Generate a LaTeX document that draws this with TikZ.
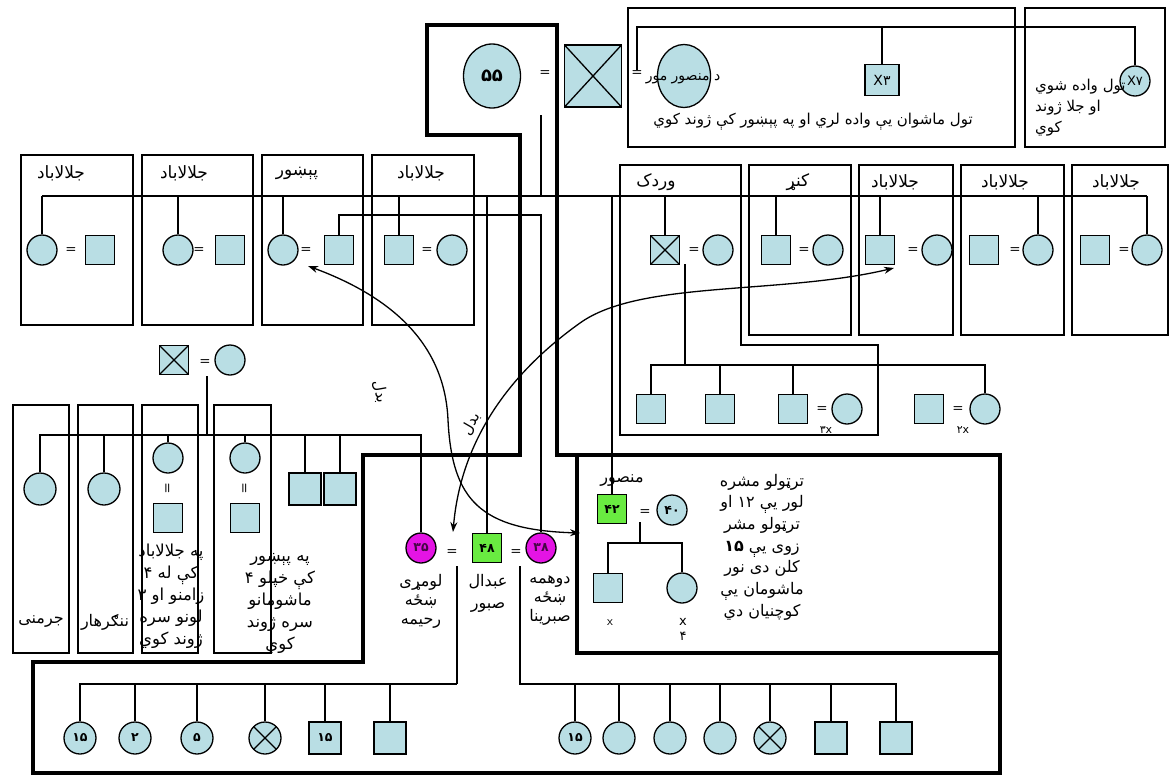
\documentclass[tikz,border=0pt]{standalone}
\usepackage{fontspec}
\usetikzlibrary{arrows.meta,shapes.geometric}
\newfontfamily\arabicfont[Script=Arabic]{DejaVu Sans}
\TeXXeTstate=1
\newcommand\rl[1]{\beginR#1\endR}
\definecolor{pedblue}{RGB}{185,222,228}
\definecolor{wifepink}{RGB}{228,20,228}
\definecolor{headgreen}{RGB}{105,235,65}

\begin{document}
\begin{tikzpicture}[x=1pt,y=-1pt,
    kin/.style={line width=1.3pt},
    heavy/.style={line width=3.2pt},
    region/.style={draw,line width=1.2pt},
    person/.style={draw,line width=1.3pt,fill=pedblue,inner sep=0pt,
        font=\arabicfont\bfseries\fontsize{12.5}{12.5}\selectfont},
    fem/.style={person,circle,minimum size=30pt},
    mal/.style={person,rectangle,minimum size=29pt},
    dead/.style={path picture={\draw[line width=1.3pt]
        (path picture bounding box.north west) -- (path picture bounding box.south east)
        (path picture bounding box.south west) -- (path picture bounding box.north east);}},
    femx/.style={fem,dead},
    malx/.style={mal,dead},
    alive/.style={},
    eq/.style={font=\sffamily\bfseries\fontsize{12}{12}\selectfont,inner sep=0pt},
    lab/.style={font=\arabicfont\fontsize{16}{21}\selectfont,inner sep=0pt,align=center},
    place/.style={lab,font=\arabicfont\fontsize{17}{21}\selectfont},
    exch/.style={line width=1.3pt,{Stealth[length=10pt,width=7pt]}-{Stealth[length=10pt,width=7pt]}}]
\useasboundingbox (0,0) rectangle (1170,777);

% heavy household outlines
\draw[heavy] (557,455) -- (557,25) -- (427,25) -- (427,135) -- (520,135) -- (520,455)
    -- (363,455) -- (363,662) -- (33,662) -- (33,773) -- (1000,773) -- (1000,455) -- cycle;
\draw[heavy] (577,455) -- (577,653) -- (1000,653);

% places
\draw[region] (628,8) rectangle (1015,147);
\draw[region] (1025,8) rectangle (1165,147);
\foreach \a/\b in {21/133,142/253,262/363,372/474}
    \draw[region] (\a,155) rectangle (\b,325);
\draw[region] (620,165) -- (741,165) -- (741,345) -- (878,345) -- (878,435) -- (620,435) -- cycle;
\foreach \a/\b in {749/851,859/953,961/1064,1072/1168}
    \draw[region] (\a,165) rectangle (\b,335);
\foreach \a/\b in {13/69,78/133,142/198,214/271}
    \draw[region] (\a,405) rectangle (\b,653);

% grandparents and Mansur's mother
\node[fem,ellipse,minimum width=57pt,minimum height=64pt,
    font=\arabicfont\bfseries\fontsize{18}{18}\selectfont] (gma) at (492,76) {۵۵};
\node[eq] (gmaeq) at (545,73) {=};
\node[malx,minimum width=57pt,minimum height=62pt] (gpa) at (593,76) {};
\node[eq] (mmeq) at (637,73) {=};
\node[fem,ellipse,minimum width=53pt,minimum height=63pt] (mmom) at (684,76) {};
\node[lab,font=\arabicfont\fontsize{14}{14}\selectfont] (mmlab) at (683,79) {\rl{د منصور مور}};
\node[mal,minimum width=34pt,minimum height=31pt,
    font=\arabicfont\fontsize{14}{14}\selectfont] (bro3) at (882,80) {X۳};
\node[fem,font=\arabicfont\fontsize{13}{13}\selectfont] (sis7) at (1135,81) {X۷};
\node[lab,font=\arabicfont\fontsize{15}{15}\selectfont] (t1) at (813,122)
    {\rl{تول ماشوان یې واده لري او په پېښور کې ژوند کوي}};
\node[lab,align=left,anchor=north west,font=\arabicfont\fontsize{15}{21}\selectfont] (t2) at (1035,79)
    {\rl{تول واده شوي}\\\rl{او جلا ژوند}\\\rl{کوي}};
\coordinate (topsib) at (0,27);
\draw[kin] (mmeq.north) -- (mmeq.north |- topsib) -| (sis7.north);
\draw[kin] (bro3.north) -- (bro3.north |- topsib);

% second generation
\coordinate (gen) at (0,196);
\coordinate (gen2) at (0,215);
\coordinate (pdrop) at (541,115);
\foreach \n/\a/\e/\b in {L1/42/71/100,L2/178/199/230,L3/283/306/339} {
    \node[fem] (\n-w) at (\a,250) {};
    \node[eq] (\n-e) at (\e,250) {=};
    \node[mal] (\n-h) at (\b,250) {};
}
\node[mal] (L4-h) at (399,250) {};
\node[eq] (L4-e) at (427,250) {=};
\node[fem] (L4-w) at (452,250) {};
\foreach \n/\a/\e/\b/\s in {R1/665/694/718/dead,R2/776/804/828/alive,
        R3/880/913/937/alive,R4/984/1015/1038/alive,R5/1095/1124/1147/alive} {
    \node[mal,\s] (\n-h) at (\a,250) {};
    \node[eq] (\n-e) at (\e,250) {=};
    \node[fem] (\n-w) at (\b,250) {};
}
\foreach \x/\t [count=\k] in {61/جلالاباد,184/جلالاباد,297/پېښور,421/جلالاباد}
    \node[place] (ltop\k) at (\x,173) {\rl{\t}};
\foreach \x/\t [count=\k] in {656/وردک,798/کنړ,895/جلالاباد,1005/جلالاباد,1116/جلالاباد}
    \node[place] (rtop\k) at (\x,182) {\rl{\t}};

% Abdul Sabur, his wives, Mansur
\node[fem,fill=wifepink,text=black!70!wifepink] (rah) at (421,548) {۳۵};
\node[eq] (rahe) at (452,552) {=};
\node[mal,fill=headgreen] (abd) at (487,548) {۴۸};
\node[eq] (sabe) at (516,552) {=};
\node[fem,fill=wifepink,text=black!70!wifepink] (sab) at (541,548) {۳۸};
\node[lab,font=\arabicfont\fontsize{16}{19}\selectfont] (rahlab) at (421,601)
    {\rl{لومړی}\\\rl{ښځه}\\\rl{رحیمه}};
\node[lab,font=\arabicfont\fontsize{16}{22}\selectfont] (abdlab) at (488,593)
    {\rl{عبدال}\\\rl{صبور}};
\node[lab,font=\arabicfont\fontsize{16}{19}\selectfont] (sablab) at (550,601)
    {\rl{دوهمه}\\\rl{ښځه}\\\rl{صبرینا}};
\node[mal,fill=headgreen] (man) at (612,509) {۴۲};

\draw[kin] (L1-w.north |- gen) -- (R5-w.north |- gen);
\foreach \n in {L1-w,L2-w,L3-w,L4-h,R1-h,R2-h,R3-h,R4-w,R5-w,abd,man}
    \draw[kin] (\n.north) -- (\n.north |- gen);
\draw[kin] (pdrop) -- (pdrop |- gen);
\draw[kin] (L3-h.north) -- (L3-h.north |- gen2) -| (sab.north);

% Wardak family
\coordinate (wdrop) at (685,264);
\coordinate (wsib) at (0,365);
\foreach \n/\x in {wk1/651,wk2/720,wk3/793,wk4/929}
    \node[mal] (\n) at (\x,409) {};
\node[fem] (wk3w) at (847,409) {};
\node[fem] (wk5) at (985,409) {};
\node[eq] (wk3e) at (822,409) {=};
\node[eq] (wk5e) at (958,409) {=};
\node[font=\arabicfont\fontsize{11}{11}\selectfont,inner sep=0pt] (wk3n) at (826,430) {۳x};
\node[font=\arabicfont\fontsize{11}{11}\selectfont,inner sep=0pt] (wk5n) at (963,430) {۲x};
\draw[kin] (wdrop) -- (wdrop |- wsib);
\draw[kin] (wk1.north) -- (wk1.north |- wsib) -- (wk5.north |- wsib) -- (wk5.north);
\foreach \n in {wk2,wk3}
    \draw[kin] (\n.north) -- (\n.north |- wsib);

% Rahima's parents and siblings
\node[malx] (lfa) at (174,360) {};
\node[eq] (lfe) at (205,362) {=};
\node[fem] (lmo) at (230,360) {};
\coordinate (ldrop) at (207,376);
\coordinate (lsib) at (0,435);
\node[fem,minimum size=32pt] (lc1) at (40,489) {};
\node[fem,minimum size=32pt] (lc2) at (104,489) {};
\node[fem] (lc3) at (168,458) {};
\node[eq,rotate=90] (lc3e) at (168,488) {=};
\node[mal] (lc3h) at (168,518) {};
\node[fem] (lc4) at (245,458) {};
\node[eq,rotate=90] (lc4e) at (245,488) {=};
\node[mal] (lc4h) at (245,518) {};
\node[mal,minimum size=32pt] (lc5) at (305,489) {};
\node[mal,minimum size=32pt] (lc6) at (340,489) {};
\draw[kin] (ldrop) -- (ldrop |- lsib);
\draw[kin] (lc1.north) -- (lc1.north |- lsib) -- (rah.north |- lsib) -- (rah.north);
\foreach \n in {lc2,lc3,lc4,lc5,lc6}
    \draw[kin] (\n.north) -- (\n.north |- lsib);
\node[lab] (lc1lab) at (41,622) {\rl{جرمنی}};
\node[lab] (lc2lab) at (105,622) {\rl{ننګرهار}};
\node[lab,font=\arabicfont\fontsize{16.5}{22}\selectfont] (lc3lab) at (171,596)
    {\rl{په جلالاباد}\\\rl{کې له ۴}\\\rl{زامنو او ۳}\\\rl{لونو سره}\\\rl{ژوند کوي}};
\node[lab,font=\arabicfont\fontsize{16.5}{22}\selectfont] (lc4lab) at (280,603)
    {\rl{په پېښور}\\\rl{کې خپلو ۴}\\\rl{ماشومانو}\\\rl{سره ژوند}\\\rl{کوي}};

% Mansur's household
\node[lab] (manlab) at (622,481) {\rl{منصور}};
\node[eq] (mane) at (645,512) {=};
\node[fem] (manw) at (672,510) {۴۰};
\coordinate (mdrop) at (640,522);
\coordinate (msib) at (0,543);
\node[mal] (mk1) at (608,588) {};
\node[fem] (mk2) at (682,588) {};
\draw[kin] (mdrop) -- (mdrop |- msib);
\draw[kin] (mk1.north) -- (mk1.north |- msib) -- (mk2.north |- msib) -- (mk2.north);
\node[font=\sffamily\fontsize{13}{13}\selectfont] (mk1x) at (610,623) {x};
\node[font=\arabicfont\fontsize{13}{15}\selectfont,align=center,inner sep=0pt] (mk2x) at (683,629) {x\\۴};
\node[lab,font=\arabicfont\fontsize{16}{21.7}\selectfont] (mantxt) at (762,547)
    {\rl{ترټولو مشره}\\\rl{لور یې ۱۲ او}\\\rl{ترټولو مشر}\\\rl{زوی یې \textbf{۱۵}}\\
     \rl{کلن دی نور}\\\rl{ماشومان یې}\\\rl{کوچنیان دي}};

% grandchildren
\coordinate (rdrop) at (457,566);
\coordinate (sdrop) at (520,566);
\coordinate (csib) at (0,684);
\foreach \n/\x/\s/\t in {ra1/80/fem/۱۵,ra2/135/fem/۲,ra3/197/fem/۵,ra4/265/femx/,
        ra5/325/mal/۱۵,ra6/390/mal/,sa1/575/fem/۱۵,sa2/619/fem/,sa3/670/fem/,
        sa4/720/fem/,sa5/770/femx/,sa6/831/mal/,sa7/896/mal/}
    \node[\s,minimum size=32pt] (\n) at (\x,738) {\t};
\draw[kin] (rdrop) -- (rdrop |- csib);
\draw[kin] (ra1.north) -- (ra1.north |- csib) -- (rdrop |- csib);
\foreach \n in {ra2,ra3,ra4,ra5,ra6}
    \draw[kin] (\n.north) -- (\n.north |- csib);
\draw[kin] (sdrop) -- (sdrop |- csib) -- (sa7.north |- csib) -- (sa7.north);
\foreach \n in {sa1,sa2,sa3,sa4,sa5,sa6}
    \draw[kin] (\n.north) -- (\n.north |- csib);

% exchange marriages
\coordinate (peshend) at (308,266);
\coordinate (mansend) at (580,533);
\coordinate (jalend) at (894,268);
\coordinate (rahend) at (453,532);
\draw[exch] (peshend) .. controls (400,300) and (445,350) .. (448,420)
    .. controls (452,500) and (480,530) .. (mansend);
\draw[exch] (rahend) .. controls (460,450) and (500,380) .. (580,323)
    .. controls (640,280) and (780,295) .. (jalend);
\node[lab,font=\arabicfont\fontsize{15}{15}\selectfont,rotate=-80] (badal1) at (380,392) {بدل};
\node[lab,font=\arabicfont\fontsize{15}{15}\selectfont,rotate=60] (badal2) at (471,424) {بدل};
\end{tikzpicture}
\end{document}
